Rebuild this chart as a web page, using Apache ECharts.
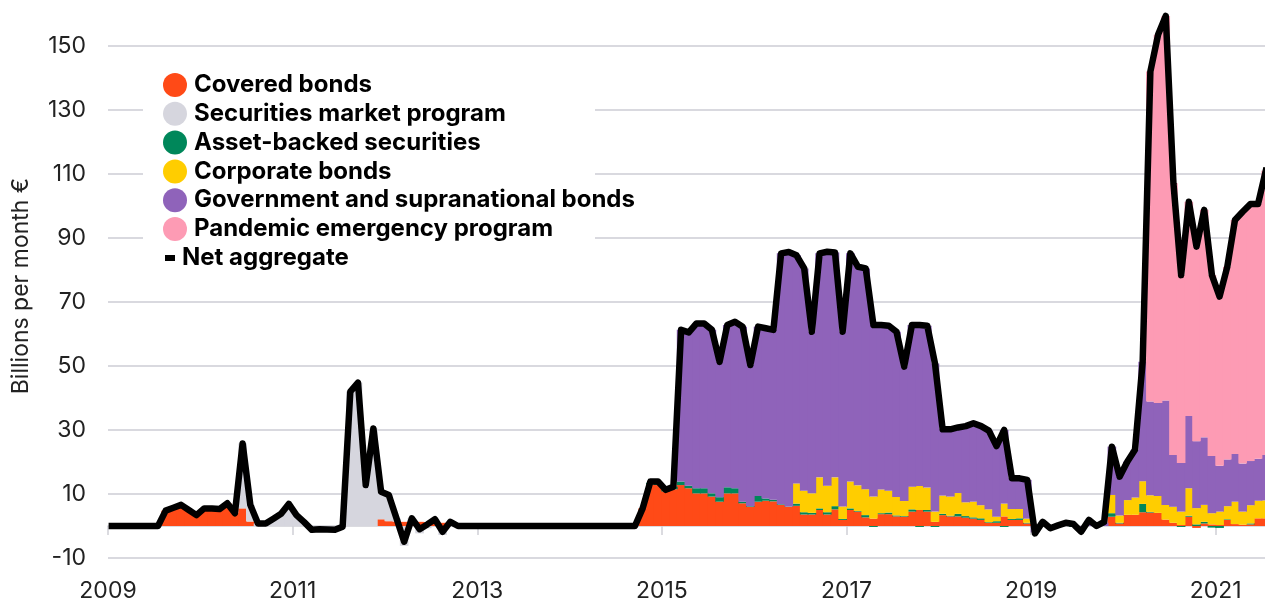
<!DOCTYPE html>
<html>
<head>
<meta charset="utf-8">
<script src="https://cdn.jsdelivr.net/npm/echarts@6/dist/echarts.min.js"></script>
<style>
html,body{margin:0;padding:0;background:#ffffff;}
#chart{width:1265px;height:598px;}
</style>
</head>
<body>
<div id="chart"></div>
<script>
// ---- Data (monthly, Jan 2009 .. Jul 2021), billions of euro per month ----
const startYear = 2009;
const xTickLabels = ['2009', '2011', '2013', '2015', '2017', '2019', '2021'];
const yTickLabels = ['-10', '10', '30', '50', '70', '90', '110', '130', '150'];
const seriesNames = ['Covered bonds', 'Securities market program', 'Asset-backed securities',
  'Corporate bonds', 'Government and supranational bonds', 'Pandemic emergency program'];
const lineName = 'Net aggregate';

const coveredBonds = [
  0, 0, 0, 0, 0, 0, 0, 4.8, 5.7, 6.6, 5.0, 3.4,
  5.5, 5.5, 5.3, 7.1, 4.0, 5.5, 1.4, 0, 0, 0, 0, 0,
  0, 0, 0, 0, 0, 0, 0, 0, 0, 0, 0, 2.1,
  1.5, 1.4, 1.3, 1.4, 1.3, 1.2, 1.4, 1.0, 0.8, 0, 0, 0,
  0, 0, 0, 0, 0, 0, 0, 0, 0, 0, 0, 0,
  0, 0, 0, 0, 0, 0, 0, 0, 0, 5.5, 13.0, 12.8,
  10.8, 11.5, 12.8, 11.8, 10.2, 10.2, 9.2, 7.6, 10.2, 10.2, 7.1, 6.0,
  7.6, 7.9, 7.7, 6.6, 6.0, 6.3, 3.6, 3.6, 5.0, 3.6, 5.2, 1.9,
  5.0, 4.5, 2.7, 2.3, 3.7, 3.7, 3.0, 2.9, 4.5, 5.0, 4.5, 1.3,
  3.4, 3.0, 3.0, 2.6, 2.3, 1.9, 1.0, 1.0, 3.0, 1.9, 1.9, 0.8,
  0, 0, 0, 0, 0, 0, 0, 0, 0, 0, 2.9, 0.8,
  3.5, 3.5, 4.3, 4.2, 4.1, 2.0, 1.0, 0.3, 2.9, -0.6, 0.8, 0.5,
  0.3, 1.9, 0.6, 0.4, 0.5, 2.4, 2.4
];
const securitiesMarket = [
  0, 0, 0, 0, 0, 0, 0, 0, 0, 0, 0, 0,
  0, 0, 0, 0, 0, 20.3, 5.2, 0.8, 0.8, 2.3, 3.8, 6.9,
  3.4, 1.2, -1.2, -1.0, -1.1, -1.2, -0.2, 42.0, 44.8, 12.8, 30.5, 8.6,
  8.2, 1.0, -6.2, 1.0, -2.3, -0.7, 0.7, -2.8, 0.5, 0, 0, 0,
  0, 0, 0, 0, 0, 0, 0, 0, 0, 0, 0, 0,
  0, 0, 0, 0, 0, 0, 0, 0, 0, 0, 0, 0,
  0, 0, 0, 0, 0, 0, 0, 0, 0, 0, 0, 0,
  0, 0, 0, 0, 0, 0, 0, 0, 0, 0, 0, 0,
  0, 0, 0, 0, 0, 0, 0, 0, 0, 0, 0, 0,
  0, 0, 0, 0, 0, 0, 0, 0, 0, 0, 0, 0,
  0, 0, 0, 0, 0, 0, 0, 0, 0, 0, 0, 0,
  0, 0, 0, 0, 0, 0, 0, 0, 0, 0, 0, 0,
  0, 0, 0, 0, 0, 0, 0
];
const assetBacked = [
  0, 0, 0, 0, 0, 0, 0, 0, 0, 0, 0, 0,
  0, 0, 0, 0, 0, 0, 0, 0, 0, 0, 0, 0,
  0, 0, 0, 0, 0, 0, 0, 0, 0, 0, 0, 0,
  0, 0, 0, 0, 0, 0, 0, 0, 0, 0, 0, 0,
  0, 0, 0, 0, 0, 0, 0, 0, 0, 0, 0, 0,
  0, 0, 0, 0, 0, 0, 0, 0, 0, 0, 0.5, 0.6,
  0.5, 0.8, 1.1, 0.8, 1.6, 1.6, 1.0, 1.4, 1.9, 1.6, 0.5, 0.2,
  1.8, 0.7, 0.5, 0.2, 0.1, 0.7, 0.7, 0.5, 0.5, 0.7, 1.0, 0.3,
  0.5, 0.2, 0.7, -0.3, 0.3, 0.5, 0.3, 0.2, 0.7, -0.3, 0.5, -0.3,
  0.4, 0.2, 0.8, 0.5, 0.4, 0.5, 0.2, 0.5, -0.3, 0.3, 0.5, 0.2,
  0, 0, 0, 0, 0, -0.3, 0, 0, 0, 0, 1.1, 0.2,
  0, 0, 2.6, 0.2, 0, 0, 0, -0.3, 0.3, 0.5, 0.5, -0.5,
  -0.6, 0.2, 0, 0, 0.3, 0, 0
];
const corporateBonds = [
  0, 0, 0, 0, 0, 0, 0, 0, 0, 0, 0, 0,
  0, 0, 0, 0, 0, 0, 0, 0, 0, 0, 0, 0,
  0, 0, 0, 0, 0, 0, 0, 0, 0, 0, 0, 0,
  0, 0, 0, 0, 0, 0, 0, 0, 0, 0, 0, 0,
  0, 0, 0, 0, 0, 0, 0, 0, 0, 0, 0, 0,
  0, 0, 0, 0, 0, 0, 0, 0, 0, 0, 0, 0,
  0, 0, 0, 0, 0, 0, 0, 0, 0, 0, 0, 0,
  0, 0, 0, 0, 0, 6.3, 6.7, 6.1, 9.7, 8.3, 9.0, 3.9,
  8.4, 8.0, 8.1, 6.9, 7.4, 6.8, 5.8, 4.7, 7.1, 7.5, 7.0, 3.2,
  5.7, 6.0, 6.5, 4.3, 4.9, 4.1, 4.0, 1.4, 4.0, 3.1, 2.9, 1.3,
  0, 0, 0, 0, 0, 0, 0, 0, 0, 0, 5.7, 2.3,
  4.6, 5.4, 7.1, 5.2, 5.3, 4.6, 5.0, 4.2, 8.6, 5.1, 5.3, 3.5,
  4.2, 4.1, 7.0, 4.1, 5.7, 5.5, 5.6
];
const governmentBonds = [
  0, 0, 0, 0, 0, 0, 0, 0, 0, 0, 0, 0,
  0, 0, 0, 0, 0, 0, 0, 0, 0, 0, 0, 0,
  0, 0, 0, 0, 0, 0, 0, 0, 0, 0, 0, 0,
  0, 0, 0, 0, 0, 0, 0, 0, 0, 0, 0, 0,
  0, 0, 0, 0, 0, 0, 0, 0, 0, 0, 0, 0,
  0, 0, 0, 0, 0, 0, 0, 0, 0, 0, 0, 0,
  0, 0, 47.4, 47.9, 51.5, 51.5, 51.1, 42.3, 50.7, 52.0, 54.7, 44.1,
  52.9, 53.2, 53.1, 78.4, 79.5, 71.3, 69.5, 50.5, 70.0, 73.1, 70.3, 54.6,
  71.3, 68.3, 69.0, 53.6, 51.5, 51.6, 51.6, 42.0, 50.5, 50.3, 50.6, 46.3,
  20.7, 21.0, 20.5, 23.8, 24.5, 24.7, 24.6, 22.1, 23.0, 9.6, 9.6, 12.1,
  -2.0, 1.0, -0.5, 0.2, 0.8, 0.6, -1.5, 1.6, 0, 1.0, 15.1, 12.1,
  12.0, 14.9, 37.3, 29.3, 29.0, 32.6, 16.2, 15.2, 22.6, 20.9, 21.1, 17.9,
  14.3, 14.6, 14.9, 15.0, 13.8, 13.1, 14.2
];
const pandemicProgram = [
  0, 0, 0, 0, 0, 0, 0, 0, 0, 0, 0, 0,
  0, 0, 0, 0, 0, 0, 0, 0, 0, 0, 0, 0,
  0, 0, 0, 0, 0, 0, 0, 0, 0, 0, 0, 0,
  0, 0, 0, 0, 0, 0, 0, 0, 0, 0, 0, 0,
  0, 0, 0, 0, 0, 0, 0, 0, 0, 0, 0, 0,
  0, 0, 0, 0, 0, 0, 0, 0, 0, 0, 0, 0,
  0, 0, 0, 0, 0, 0, 0, 0, 0, 0, 0, 0,
  0, 0, 0, 0, 0, 0, 0, 0, 0, 0, 0, 0,
  0, 0, 0, 0, 0, 0, 0, 0, 0, 0, 0, 0,
  0, 0, 0, 0, 0, 0, 0, 0, 0, 0, 0, 0,
  0, 0, 0, 0, 0, 0, 0, 0, 0, 0, 0, 0,
  0, 0, 0, 103.1, 115.1, 120.2, 84.9, 58.7, 66.9, 60.8, 71.1, 56.5,
  52.9, 60.2, 73.1, 78.7, 80.3, 79.6, 88.8
];
const netAggregate = [
  0, 0, 0, 0, 0, 0, 0, 4.8, 5.7, 6.6, 5.0, 3.4,
  5.5, 5.5, 5.3, 7.1, 4.0, 25.8, 6.6, 0.8, 0.8, 2.3, 3.8, 6.9,
  3.4, 1.2, -1.2, -1.0, -1.1, -1.2, -0.2, 42.0, 44.8, 12.8, 30.5, 10.7,
  9.7, 2.4, -4.9, 2.4, -1.0, 0.5, 2.1, -1.8, 1.3, 0, 0, 0,
  0, 0, 0, 0, 0, 0, 0, 0, 0, 0, 0, 0,
  0, 0, 0, 0, 0, 0, 0, 0, 0, 5.5, 13.9, 13.9,
  11.3, 12.3, 61.3, 60.5, 63.3, 63.3, 61.3, 51.3, 62.8, 63.8, 62.3, 50.3,
  62.3, 61.8, 61.3, 85.2, 85.6, 84.6, 80.5, 60.7, 85.2, 85.7, 85.5, 60.7,
  85.2, 81.0, 80.5, 62.8, 62.8, 62.6, 60.7, 49.8, 62.8, 62.8, 62.6, 50.8,
  30.2, 30.2, 30.8, 31.2, 32.1, 31.2, 29.8, 25.0, 30.0, 14.9, 14.9, 14.4,
  -2.3, 1.3, -0.7, 0.2, 1.0, 0.6, -1.8, 1.9, 0.0, 1.3, 24.8, 15.4,
  20.1, 23.8, 51.3, 142.0, 153.5, 159.4, 107.1, 78.4, 101.3, 87.3, 98.8, 78.4,
  71.7, 81.0, 95.6, 98.2, 100.6, 100.6, 111.0
];

// month categories (YYYY-MM)
const months = netAggregate.map((_, i) =>
  (startYear + Math.floor(i / 12)) + '-' + String((i % 12) + 1).padStart(2, '0'));

// ---- Styles ----
const barColors = ['#FF4A17', '#D6D6DE', '#00875A', '#FFCD00', '#8F63BA', '#FD9BB4'];
const FONT = 'Inter, "Noto Sans", sans-serif';
const TICK_EVERY = 24;

const barData = [coveredBonds, securitiesMarket, assetBacked, corporateBonds, governmentBonds, pandemicProgram];

const chart = echarts.init(document.getElementById('chart'), null, { renderer: 'canvas' });

const barSeries = barData.map((arr, k) => ({
  name: seriesNames[k],
  type: 'bar',
  stack: 'total',
  data: arr,
  barWidth: '112%',
  barCategoryGap: '0%',
  itemStyle: { color: barColors[k] },
  emphasis: { disabled: true },
  z: 2
}));

const option = {
  animation: false,
  backgroundColor: '#ffffff',
  grid: { left: 108, right: -4.6, top: 14, bottom: 40, containLabel: false, outerBoundsMode: 'none' },
  legend: {
    data: seriesNames.map(n => ({ name: n, icon: 'circle' })),
    orient: 'vertical',
    left: 163,
    top: 73,
    padding: 0,
    itemWidth: 24,
    itemHeight: 24,
    itemGap: 4.8,
    selectedMode: false,
    textStyle: { fontFamily: FONT, fontSize: 24, fontWeight: 'bold', color: '#000000', lineHeight: 24, padding: [0, 0, 0, 2] },
    z: 4
  },
  graphic: [
    { type: 'rect', z: 1, silent: true, shape: { x: 143, y: 62, width: 452, height: 208 }, style: { fill: '#ffffff' } },
    { type: 'rect', z: 5, silent: true, shape: { x: 165, y: 255, width: 10, height: 6 }, style: { fill: '#000000' } },
    { type: 'text', z: 5, silent: true, x: 182, y: 258,
      style: { text: lineName, font: 'bold 24px ' + FONT, fill: '#000000', verticalAlign: 'middle' } }
  ],
  xAxis: [
    {
      type: 'category', data: months, boundaryGap: true, position: 'bottom',
      axisLine: { show: false, onZero: false },
      axisTick: { show: false },
      splitLine: { show: false },
      axisLabel: {
        color: '#222222', fontFamily: FONT, fontSize: 23, margin: 22,
        padding: [0, 7.7, 0, 0],
        interval: idx => idx % TICK_EVERY === 0,
        formatter: (val, idx) => (idx % TICK_EVERY === 0 ? xTickLabels[idx / TICK_EVERY] : '')
      }
    },
    {
      type: 'category', data: months, boundaryGap: true, position: 'bottom',
      axisLine: { show: true, onZero: true, lineStyle: { color: '#cfcfd6', width: 1.5 } },
      axisTick: { show: true, length: 9, interval: idx => idx % TICK_EVERY === 0, lineStyle: { color: '#cfcfd6', width: 1.5 } },
      splitLine: { show: false },
      axisLabel: { show: false }
    }
  ],
  yAxis: {
    type: 'value', min: -10, max: 160, interval: 20,
    name: 'Billions per month €',
    nameLocation: 'middle',
    nameRotate: 90,
    nameGap: 75,
    nameTextStyle: { fontFamily: FONT, fontSize: 23, color: '#222222' },
    axisLine: { show: false },
    axisTick: { show: false },
    axisLabel: {
      color: '#222222', fontFamily: FONT, fontSize: 23, margin: 22, showMaxLabel: false,
      formatter: v => (yTickLabels.indexOf(String(v)) >= 0 ? String(v) : '')
    },
    splitLine: { show: true, showMaxLine: false, lineStyle: { color: '#d9d9df', width: 2 } }
  },
  series: barSeries.concat([{
    name: lineName,
    type: 'line',
    data: netAggregate,
    symbol: 'none',
    clip: true,
    lineStyle: { color: '#000000', width: 6.5, join: 'round', cap: 'square' },
    emphasis: { disabled: true },
    z: 6
  }])
};

chart.setOption(option);
</script>
</body>
</html>
